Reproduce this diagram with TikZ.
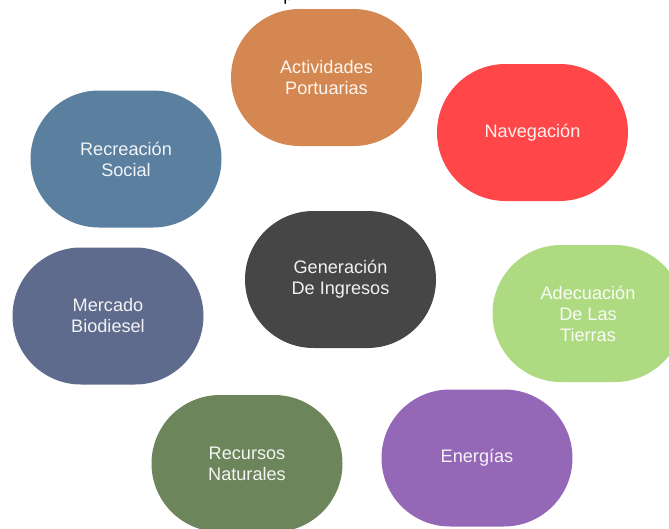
\documentclass[tikz,border=0pt]{standalone}
\usepackage{fontspec}
\setmainfont{Liberation Sans}
\usetikzlibrary{shapes.misc}
\definecolor{portOrange}{RGB}{212,135,80}
\definecolor{navRed}{RGB}{255,71,74}
\definecolor{recBlue}{RGB}{91,127,159}
\definecolor{genGrey}{RGB}{70,70,70}
\definecolor{merBlue}{RGB}{94,107,140}
\definecolor{adeGreen}{RGB}{174,218,130}
\definecolor{rnGreen}{RGB}{108,133,91}
\definecolor{enePurple}{RGB}{148,103,183}
\begin{document}
\begin{tikzpicture}[x=0.75pt,y=-0.75pt,font=\fontsize{13.6}{15.75}\selectfont,
	blob/.style={rounded rectangle,minimum width=143.25pt,minimum height=102.75pt,inner sep=0pt,text=white,text opacity=0.92,align=center}]
	\useasboundingbox (0,0) rectangle (669,529);
	\node[anchor=base west,inner sep=0pt] (title) at (283,0) {p};
	\foreach \n/\p/\c/\t in {act/{326.5,77.5}/portOrange/{Actividades\\Portuarias},
		nav/{532.5,132.5}/navRed/{Navegación},
		rec/{126,159}/recBlue/{Recreación\\Social},
		gen/{340.5,279.5}/genGrey/{Generación\\De Ingresos},
		mer/{108,316}/merBlue/{Mercado\\Biodiesel},
		ade/{588,313.5}/adeGreen/{Adecuación\\De Las\\Tierras},
		rn/{247,463.5}/rnGreen/{Recursos\\Naturales},
		ene/{477,458}/enePurple/{Energías}}
	\node[blob,fill=\c] (\n) at (\p) {\t};
\end{tikzpicture}
\end{document}
